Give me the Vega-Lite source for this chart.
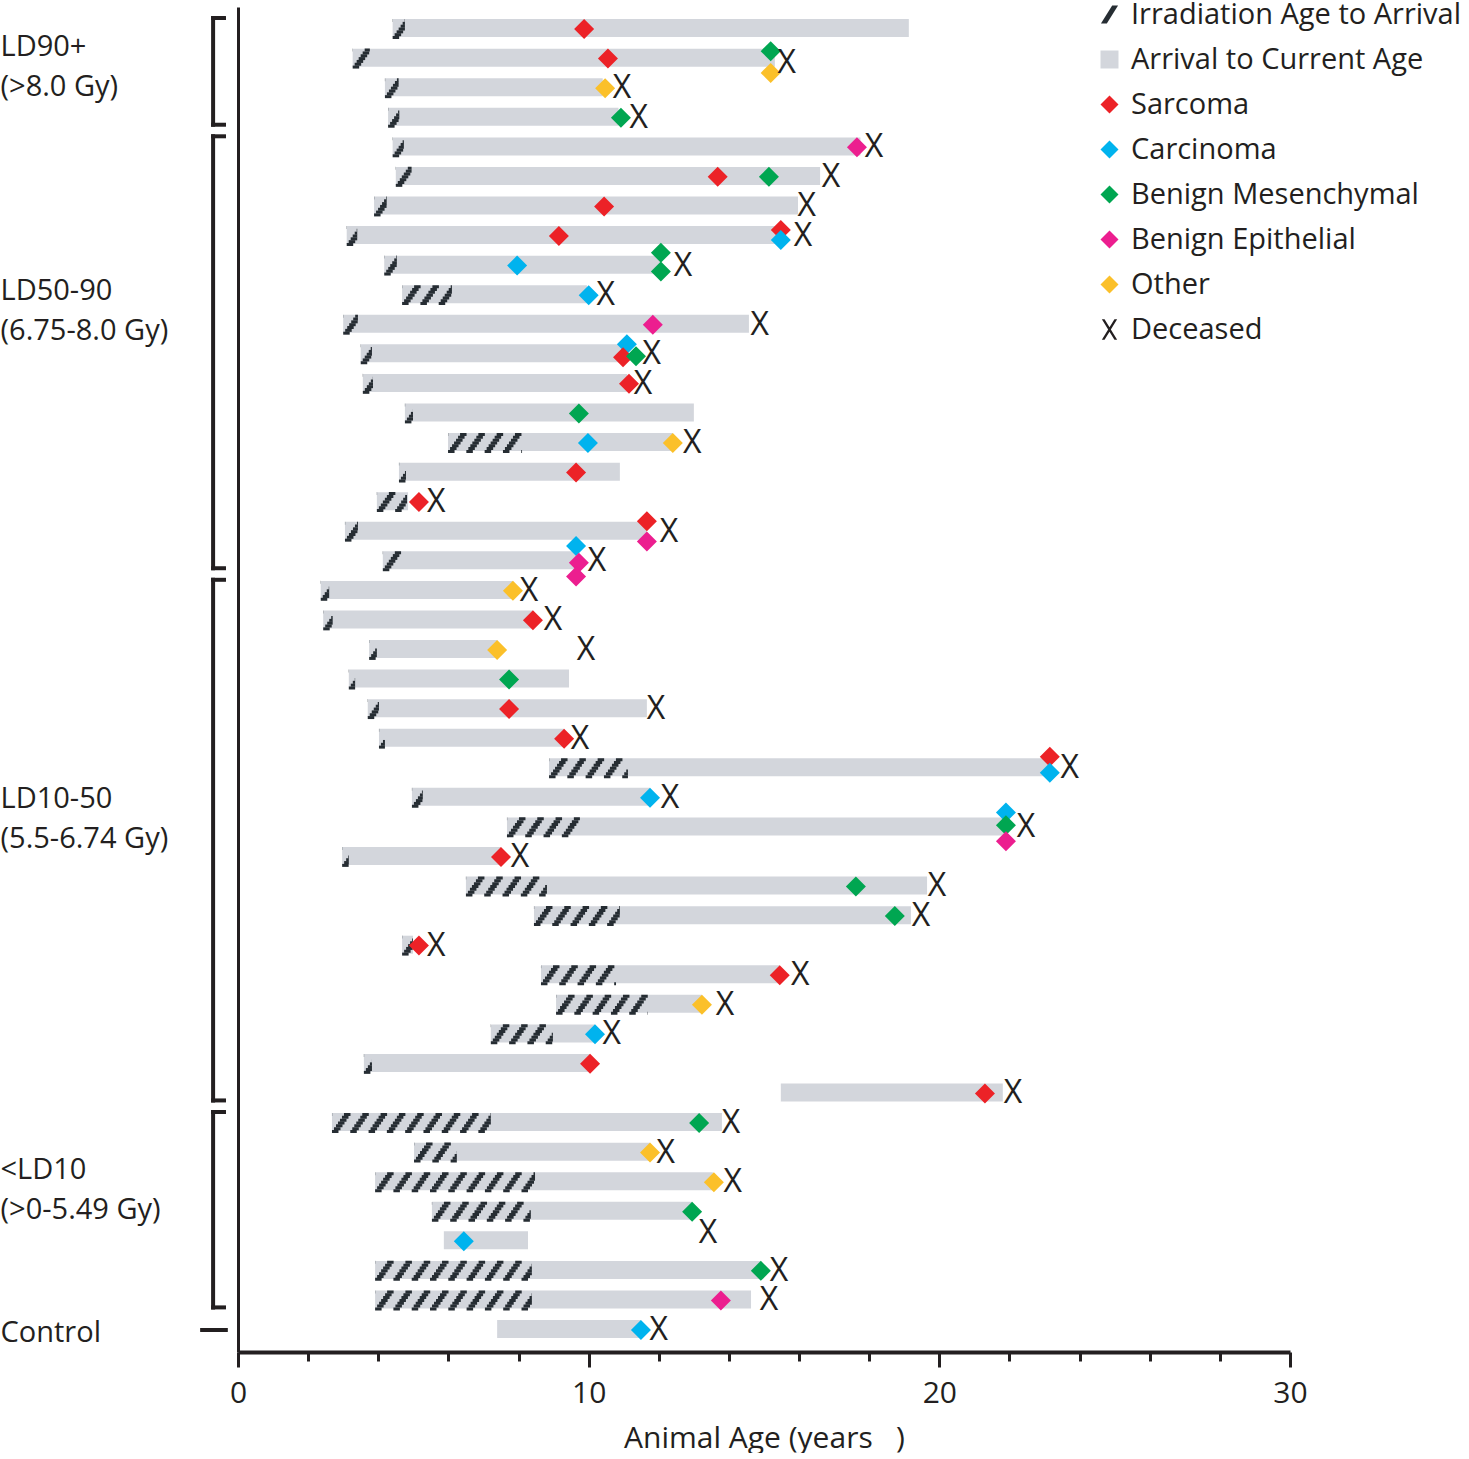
{
  "$schema": "https://vega.github.io/schema/vega-lite/v6.json",
  "padding": 0,
  "width": 1052,
  "height": 1345,
  "config": {
    "view": {"stroke": null},
    "font": "Open Sans",
    "axis": {"grid": false, "labelColor": "#231f20", "titleColor": "#231f20", "domainColor": "#231f20", "tickColor": "#231f20", "labelFont": "Open Sans", "titleFont": "Open Sans", "titleFontWeight": "normal"}
  },
  "datasets": {
    "animals": [
      {"row": 1, "group": "LD90+", "irr": 4.41, "arr": 4.76, "cur": 19.13, "dead": null, "dy": 0},
      {"row": 2, "group": "LD90+", "irr": 3.27, "arr": 3.76, "cur": 15.31, "dead": 15.65, "dy": 0.4},
      {"row": 3, "group": "LD90+", "irr": 4.19, "arr": 4.58, "cur": 10.4, "dead": 10.95, "dy": 0},
      {"row": 4, "group": "LD90+", "irr": 4.28, "arr": 4.6, "cur": 10.85, "dead": 11.43, "dy": 0},
      {"row": 5, "group": "LD50-90", "irr": 4.41, "arr": 4.73, "cur": 17.75, "dead": 18.14, "dy": 0},
      {"row": 6, "group": "LD50-90", "irr": 4.5, "arr": 4.95, "cur": 16.6, "dead": 16.91, "dy": 0},
      {"row": 7, "group": "LD50-90", "irr": 3.88, "arr": 4.24, "cur": 15.97, "dead": 16.22, "dy": 0},
      {"row": 8, "group": "LD50-90", "irr": 3.1, "arr": 3.4, "cur": 15.45, "dead": 16.11, "dy": 0},
      {"row": 9, "group": "LD50-90", "irr": 4.17, "arr": 4.53, "cur": 12.05, "dead": 12.69, "dy": 0},
      {"row": 10, "group": "LD50-90", "irr": 4.68, "arr": 6.1, "cur": 9.95, "dead": 10.49, "dy": 0},
      {"row": 11, "group": "LD50-90", "irr": 3.0, "arr": 3.42, "cur": 14.57, "dead": 14.88, "dy": 0},
      {"row": 12, "group": "LD50-90", "irr": 3.5, "arr": 3.82, "cur": 11.1, "dead": 11.8, "dy": 0},
      {"row": 13, "group": "LD50-90", "irr": 3.56, "arr": 3.85, "cur": 11.1, "dead": 11.55, "dy": 0},
      {"row": 14, "group": "LD50-90", "irr": 4.76, "arr": 4.99, "cur": 13.0, "dead": null, "dy": 0},
      {"row": 15, "group": "LD50-90", "irr": 5.99, "arr": 8.1, "cur": 12.4, "dead": 12.95, "dy": 0},
      {"row": 16, "group": "LD50-90", "irr": 4.59, "arr": 4.79, "cur": 10.89, "dead": null, "dy": 0},
      {"row": 17, "group": "LD50-90", "irr": 3.96, "arr": 4.82, "cur": 4.85, "dead": 5.65, "dy": 0},
      {"row": 18, "group": "LD50-90", "irr": 3.05, "arr": 3.42, "cur": 11.66, "dead": 12.29, "dy": 0},
      {"row": 19, "group": "LD50-90", "irr": 4.13, "arr": 4.65, "cur": 9.67, "dead": 10.24, "dy": 0},
      {"row": 20, "group": "LD10-50", "irr": 2.36, "arr": 2.6, "cur": 7.84, "dead": 8.3, "dy": 0},
      {"row": 21, "group": "LD10-50", "irr": 2.43, "arr": 2.7, "cur": 8.41, "dead": 8.98, "dy": 0},
      {"row": 22, "group": "LD10-50", "irr": 3.74, "arr": 3.96, "cur": 7.39, "dead": 9.92, "dy": 0},
      {"row": 23, "group": "LD10-50", "irr": 3.16, "arr": 3.34, "cur": 9.44, "dead": null, "dy": 0},
      {"row": 24, "group": "LD10-50", "irr": 3.7, "arr": 4.02, "cur": 11.66, "dead": 11.92, "dy": 0},
      {"row": 25, "group": "LD10-50", "irr": 4.02, "arr": 4.19, "cur": 9.3, "dead": 9.75, "dy": 0},
      {"row": 26, "group": "LD10-50", "irr": 8.87, "arr": 11.12, "cur": 23.15, "dead": 23.72, "dy": 0},
      {"row": 27, "group": "LD10-50", "irr": 4.96, "arr": 5.27, "cur": 11.75, "dead": 12.32, "dy": 0},
      {"row": 28, "group": "LD10-50", "irr": 7.67, "arr": 9.75, "cur": 21.87, "dead": 22.47, "dy": 0},
      {"row": 29, "group": "LD10-50", "irr": 2.97, "arr": 3.16, "cur": 7.5, "dead": 8.04, "dy": 0},
      {"row": 30, "group": "LD10-50", "irr": 6.5, "arr": 8.81, "cur": 19.65, "dead": 19.93, "dy": 0},
      {"row": 31, "group": "LD10-50", "irr": 8.44, "arr": 10.89, "cur": 19.19, "dead": 19.48, "dy": 0},
      {"row": 32, "group": "LD10-50", "irr": 4.68, "arr": 4.99, "cur": 4.99, "dead": 5.65, "dy": 0},
      {"row": 33, "group": "LD10-50", "irr": 8.64, "arr": 10.78, "cur": 15.45, "dead": 16.03, "dy": 0},
      {"row": 34, "group": "LD10-50", "irr": 9.07, "arr": 11.69, "cur": 13.23, "dead": 13.89, "dy": 0},
      {"row": 35, "group": "LD10-50", "irr": 7.21, "arr": 8.98, "cur": 10.18, "dead": 10.66, "dy": 0},
      {"row": 36, "group": "LD10-50", "irr": 3.59, "arr": 3.82, "cur": 10.04, "dead": null, "dy": 0},
      {"row": 37, "group": "LD10-50", "irr": 15.48, "arr": 15.48, "cur": 21.81, "dead": 22.1, "dy": 0},
      {"row": 38, "group": "<LD10", "irr": 2.68, "arr": 7.21, "cur": 13.8, "dead": 14.06, "dy": 0},
      {"row": 39, "group": "<LD10", "irr": 5.02, "arr": 6.24, "cur": 11.75, "dead": 12.2, "dy": 0},
      {"row": 40, "group": "<LD10", "irr": 3.91, "arr": 8.47, "cur": 13.54, "dead": 14.11, "dy": 0},
      {"row": 41, "group": "<LD10", "irr": 5.53, "arr": 8.35, "cur": 12.95, "dead": 13.4, "dy": 2.1},
      {"row": 42, "group": "<LD10", "irr": 5.87, "arr": 5.87, "cur": 8.27, "dead": null, "dy": 0},
      {"row": 43, "group": "<LD10", "irr": 3.91, "arr": 8.38, "cur": 14.91, "dead": 15.43, "dy": 0},
      {"row": 44, "group": "<LD10", "irr": 3.91, "arr": 8.38, "cur": 14.63, "dead": 15.14, "dy": 0},
      {"row": 45, "group": "Control", "irr": 7.39, "arr": 7.39, "cur": 11.49, "dead": 12.0, "dy": 0}
    ],
    "tumors": [
      {"row": 1, "age": 9.87, "type": "Sarcoma", "lane": 0},
      {"row": 2, "age": 10.55, "type": "Sarcoma", "lane": 0},
      {"row": 2, "age": 15.19, "type": "Benign Mesenchymal", "lane": -0.75},
      {"row": 2, "age": 15.19, "type": "Other", "lane": 1.45},
      {"row": 3, "age": 10.47, "type": "Other", "lane": 0},
      {"row": 4, "age": 10.92, "type": "Benign Mesenchymal", "lane": 0},
      {"row": 5, "age": 17.65, "type": "Benign Epithelial", "lane": 0},
      {"row": 6, "age": 13.68, "type": "Sarcoma", "lane": 0},
      {"row": 6, "age": 15.14, "type": "Benign Mesenchymal", "lane": 0},
      {"row": 7, "age": 10.44, "type": "Sarcoma", "lane": 0},
      {"row": 8, "age": 9.15, "type": "Sarcoma", "lane": 0},
      {"row": 8, "age": 15.48, "type": "Sarcoma", "lane": -0.6},
      {"row": 8, "age": 15.48, "type": "Carcinoma", "lane": 0.4},
      {"row": 9, "age": 7.96, "type": "Carcinoma", "lane": 0},
      {"row": 9, "age": 12.06, "type": "Benign Mesenchymal", "lane": -1.3},
      {"row": 9, "age": 12.06, "type": "Benign Mesenchymal", "lane": 0.6},
      {"row": 10, "age": 10.0, "type": "Carcinoma", "lane": 0},
      {"row": 11, "age": 11.83, "type": "Benign Epithelial", "lane": 0},
      {"row": 12, "age": 11.09, "type": "Carcinoma", "lane": -1.0},
      {"row": 12, "age": 10.98, "type": "Sarcoma", "lane": 0.3},
      {"row": 12, "age": 11.35, "type": "Benign Mesenchymal", "lane": 0.2},
      {"row": 13, "age": 11.15, "type": "Sarcoma", "lane": 0},
      {"row": 14, "age": 9.72, "type": "Benign Mesenchymal", "lane": 0},
      {"row": 15, "age": 9.98, "type": "Carcinoma", "lane": 0},
      {"row": 15, "age": 12.4, "type": "Other", "lane": 0},
      {"row": 16, "age": 9.64, "type": "Sarcoma", "lane": 0},
      {"row": 17, "age": 5.16, "type": "Sarcoma", "lane": 0},
      {"row": 18, "age": 11.66, "type": "Sarcoma", "lane": -1.05},
      {"row": 18, "age": 11.66, "type": "Benign Epithelial", "lane": 1.0},
      {"row": 19, "age": 9.64, "type": "Carcinoma", "lane": -1.55},
      {"row": 19, "age": 9.72, "type": "Benign Epithelial", "lane": 0.15},
      {"row": 19, "age": 9.64, "type": "Benign Epithelial", "lane": 1.55},
      {"row": 20, "age": 7.84, "type": "Other", "lane": 0},
      {"row": 21, "age": 8.41, "type": "Sarcoma", "lane": 0},
      {"row": 22, "age": 7.39, "type": "Other", "lane": 0},
      {"row": 23, "age": 7.73, "type": "Benign Mesenchymal", "lane": 0},
      {"row": 24, "age": 7.73, "type": "Sarcoma", "lane": 0},
      {"row": 25, "age": 9.3, "type": "Sarcoma", "lane": 0},
      {"row": 26, "age": 23.15, "type": "Sarcoma", "lane": -1.15},
      {"row": 26, "age": 23.15, "type": "Carcinoma", "lane": 0.45},
      {"row": 27, "age": 11.75, "type": "Carcinoma", "lane": 0},
      {"row": 28, "age": 21.9, "type": "Carcinoma", "lane": -1.5},
      {"row": 28, "age": 21.9, "type": "Benign Mesenchymal", "lane": -0.2},
      {"row": 28, "age": 21.9, "type": "Benign Epithelial", "lane": 1.4},
      {"row": 29, "age": 7.5, "type": "Sarcoma", "lane": 0},
      {"row": 30, "age": 17.62, "type": "Benign Mesenchymal", "lane": 0},
      {"row": 31, "age": 18.73, "type": "Benign Mesenchymal", "lane": 0},
      {"row": 32, "age": 5.16, "type": "Sarcoma", "lane": 0},
      {"row": 33, "age": 15.45, "type": "Sarcoma", "lane": 0},
      {"row": 34, "age": 13.23, "type": "Other", "lane": 0},
      {"row": 35, "age": 10.18, "type": "Carcinoma", "lane": 0},
      {"row": 36, "age": 10.04, "type": "Sarcoma", "lane": 0},
      {"row": 37, "age": 21.3, "type": "Sarcoma", "lane": 0},
      {"row": 38, "age": 13.15, "type": "Benign Mesenchymal", "lane": 0},
      {"row": 39, "age": 11.75, "type": "Other", "lane": 0},
      {"row": 40, "age": 13.57, "type": "Other", "lane": 0},
      {"row": 41, "age": 12.95, "type": "Benign Mesenchymal", "lane": 0},
      {"row": 42, "age": 6.44, "type": "Carcinoma", "lane": 0},
      {"row": 43, "age": 14.91, "type": "Benign Mesenchymal", "lane": 0},
      {"row": 44, "age": 13.77, "type": "Benign Epithelial", "lane": 0},
      {"row": 45, "age": 11.49, "type": "Carcinoma", "lane": 0}
    ]
  },
  "layer": [
    {
      "data": {"name": "animals"},
      "mark": {"type": "bar", "color": "#d3d6dc"},
      "encoding": {
        "x": {"field": "irr", "type": "quantitative",
          "scale": {"domain": [0, 30], "nice": false},
          "axis": {"title": "Animal Age (years\u00a0\u00a0\u00a0)", "values": [0,1,2,3,4,5,6,7,8,9,10,11,12,13,14,15,16,17,18,19,20,21,22,23,24,25,26,27,28,29,30],
            "labelExpr": "datum.value % 10 === 0 ? datum.label : ''",
            "labelFlush": false,
            "labelFontSize": 30, "labelPadding": 11, "titleFontSize": 30, "titlePadding": 15,
            "domainWidth": 4, "tickWidth": 3,
            "tickSize": {"condition": {"test": "datum.value % 10 === 0", "value": 15}, "value": 9}}},
        "x2": {"field": "cur"},
        "y": {"field": "row", "type": "ordinal",
          "scale": {"domain": [1,2,3,4,5,6,7,8,9,10,11,12,13,14,15,16,17,18,19,20,21,22,23,24,25,26,27,28,29,30,31,32,33,34,35,36,37,38,39,40,41,42,43,44,45], "paddingInner": 0.33, "paddingOuter": 0.41},
          "axis": {"title": null, "values": [2, 10, 28, 40, 45], "ticks": false, "tickSize": 0, "domainWidth": 3,
            "labelAlign": "left", "labelBaseline": "middle", "labelPadding": 238, "labelLimit": 400, "labelOverlap": false,
            "labelFontSize": 29, "labelLineHeight": 40,
            "labelExpr": "datum.value == 2 ? ['LD90+', '(>8.0 Gy)'] : datum.value == 10 ? ['LD50-90', '(6.75-8.0 Gy)'] : datum.value == 28 ? ['LD10-50', '(5.5-6.74 Gy)'] : datum.value == 40 ? ['<LD10', '(>0-5.49 Gy)'] : 'Control'",
            "labelOffset": {"condition": [{"test": "datum.value == 2", "value": -12}, {"test": "datum.value == 10", "value": -4}, {"test": "datum.value == 28", "value": -28}, {"test": "datum.value == 40", "value": -12}], "value": 3}}}
      }
    },
    {
      "data": {"name": "animals"},
      "mark": {"type": "rule", "color": "#262d33", "strokeWidth": 3.0, "strokeDash": [6.5, 11.8], "strokeDashOffset": 6.3, "yOffset": -8.49},
      "encoding": {"x": {"field": "irr", "type": "quantitative"}, "x2": {"field": "arr"}, "y": {"field": "row", "type": "ordinal"}}
    },
    {
      "data": {"name": "animals"},
      "mark": {"type": "rule", "color": "#262d33", "strokeWidth": 3.0, "strokeDash": [6.5, 11.8], "strokeDashOffset": 8.3, "yOffset": -5.66},
      "encoding": {"x": {"field": "irr", "type": "quantitative"}, "x2": {"field": "arr"}, "y": {"field": "row", "type": "ordinal"}}
    },
    {
      "data": {"name": "animals"},
      "mark": {"type": "rule", "color": "#262d33", "strokeWidth": 3.0, "strokeDash": [6.5, 11.8], "strokeDashOffset": 10.3, "yOffset": -2.83},
      "encoding": {"x": {"field": "irr", "type": "quantitative"}, "x2": {"field": "arr"}, "y": {"field": "row", "type": "ordinal"}}
    },
    {
      "data": {"name": "animals"},
      "mark": {"type": "rule", "color": "#262d33", "strokeWidth": 3.0, "strokeDash": [6.5, 11.8], "strokeDashOffset": 12.3, "yOffset": 0},
      "encoding": {"x": {"field": "irr", "type": "quantitative"}, "x2": {"field": "arr"}, "y": {"field": "row", "type": "ordinal"}}
    },
    {
      "data": {"name": "animals"},
      "mark": {"type": "rule", "color": "#262d33", "strokeWidth": 3.0, "strokeDash": [6.5, 11.8], "strokeDashOffset": 14.3, "yOffset": 2.83},
      "encoding": {"x": {"field": "irr", "type": "quantitative"}, "x2": {"field": "arr"}, "y": {"field": "row", "type": "ordinal"}}
    },
    {
      "data": {"name": "animals"},
      "mark": {"type": "rule", "color": "#262d33", "strokeWidth": 3.0, "strokeDash": [6.5, 11.8], "strokeDashOffset": 16.3, "yOffset": 5.66},
      "encoding": {"x": {"field": "irr", "type": "quantitative"}, "x2": {"field": "arr"}, "y": {"field": "row", "type": "ordinal"}}
    },
    {
      "data": {"name": "animals"},
      "mark": {"type": "rule", "color": "#262d33", "strokeWidth": 3.0, "strokeDash": [6.5, 11.8], "strokeDashOffset": 0, "yOffset": 8.49},
      "encoding": {"x": {"field": "irr", "type": "quantitative"}, "x2": {"field": "arr"}, "y": {"field": "row", "type": "ordinal"}}
    },
    {
      "data": {"name": "tumors"},
      "mark": {"type": "point", "filled": true, "opacity": 1, "size": 400, "strokeWidth": 0},
      "encoding": {
        "x": {"field": "age", "type": "quantitative"},
        "y": {"field": "row", "type": "ordinal"},
        "yOffset": {"field": "lane", "type": "quantitative", "scale": {"domain": [-1, 1]}},
        "fill": {"field": "type", "type": "nominal",
          "scale": {"domain": ["Irradiation Age to Arrival", "Arrival to Current Age", "Sarcoma", "Carcinoma", "Benign Mesenchymal", "Benign Epithelial", "Other", "Deceased"],
            "range": ["#262d33", "#d3d6dc", "#ec2227", "#00b3ee", "#00a651", "#ec1e8f", "#fbc02a", "#231f20"]},
          "legend": {"title": null, "orient": "none", "legendX": 857, "legendY": -7, "padding": 0, "labelFontSize": 29, "labelFont": "Open Sans", "labelColor": "#231f20", "labelLimit": 400, "symbolSize": 324, "rowPadding": 15, "labelOffset": 7, "symbolStrokeWidth": 0}},
        "shape": {"field": "type", "type": "nominal",
          "scale": {"domain": ["Irradiation Age to Arrival", "Arrival to Current Age", "Sarcoma", "Carcinoma", "Benign Mesenchymal", "Benign Epithelial", "Other", "Deceased"],
            "range": ["M-0.95,1L0.3,-1L0.95,-1L-0.3,1Z", "square", "diamond", "diamond", "diamond", "diamond", "diamond", "M-0.85,-1.15L-0.55,-1.15L0,-0.25L0.55,-1.15L0.85,-1.15L0.15,0L0.85,1.15L0.55,1.15L0,0.25L-0.55,1.15L-0.85,1.15L-0.15,0Z"]}}
      }
    },
    {
      "data": {"name": "animals"},
      "transform": [{"filter": "isValid(datum.dead)"}],
      "mark": {"type": "text", "text": "X", "fontSize": 32, "font": "Open Sans", "color": "#231f20", "align": "center", "baseline": "middle"},
      "encoding": {
        "x": {"field": "dead", "type": "quantitative"},
        "y": {"field": "row", "type": "ordinal"},
        "yOffset": {"field": "dy", "type": "quantitative", "scale": {"domain": [-1, 1]}}
      }
    },
    {
      "data": {"name": "animals"},
      "transform": [{"filter": "datum.group != 'Control'"}, {"aggregate": [{"op": "min", "field": "row", "as": "first"}, {"op": "max", "field": "row", "as": "last"}], "groupby": ["group"]}],
      "mark": {"type": "rule", "color": "#231f20", "strokeWidth": 4, "strokeCap": "square", "yOffset": -11, "y2Offset": 7},
      "encoding": {"x": {"datum": -0.71}, "y": {"field": "first", "type": "ordinal"}, "y2": {"field": "last"}}
    },
    {
      "data": {"name": "animals"},
      "transform": [{"filter": "datum.group != 'Control'"}, {"aggregate": [{"op": "min", "field": "row", "as": "first"}], "groupby": ["group"]}],
      "mark": {"type": "rule", "color": "#231f20", "strokeWidth": 4, "strokeCap": "square", "yOffset": -11},
      "encoding": {"x": {"datum": -0.71}, "x2": {"datum": -0.4}, "y": {"field": "first", "type": "ordinal"}}
    },
    {
      "data": {"name": "animals"},
      "transform": [{"filter": "datum.group != 'Control'"}, {"aggregate": [{"op": "max", "field": "row", "as": "last"}], "groupby": ["group"]}],
      "mark": {"type": "rule", "color": "#231f20", "strokeWidth": 4, "strokeCap": "square", "yOffset": 7},
      "encoding": {"x": {"datum": -0.71}, "x2": {"datum": -0.4}, "y": {"field": "last", "type": "ordinal"}}
    },
    {
      "data": {"name": "animals"},
      "transform": [{"filter": "datum.group == 'Control'"}],
      "mark": {"type": "rule", "color": "#231f20", "strokeWidth": 4},
      "encoding": {"x": {"datum": -1.08}, "x2": {"datum": -0.29}, "y": {"field": "row", "type": "ordinal"}}
    }
  ]
}
